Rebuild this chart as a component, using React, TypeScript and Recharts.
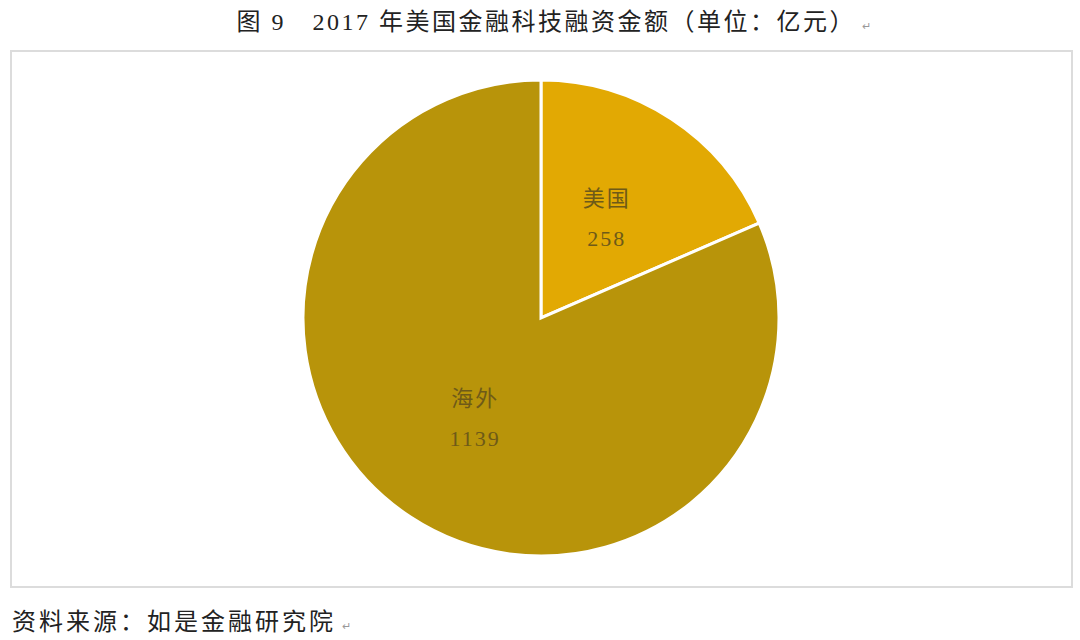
import React from 'react';
import { PieChart, Pie, Cell } from 'recharts';

// 2017 funding by region (亿元)
const regions = ['美国', '海外'];
const amounts = [258, 1139];
const sliceColors = ['#E2A903', '#B8940A'];

const title = '图 9　2017 年美国金融科技融资金额（单位：亿元）';
const source = '资料来源：如是金融研究院';

const data = regions.map((name, i) => ({ name, value: amounts[i] }));

const RADIAN = Math.PI / 180;
const FONT = '"Liberation Serif", "Noto Sans CJK SC", serif';

const renderLabel = (props: any) => {
  const { cx, cy, midAngle, name, value } = props;
  const r = 120;
  const x = cx + r * Math.cos(-midAngle * RADIAN);
  const y = cy + r * Math.sin(-midAngle * RADIAN);
  return (
    <text x={x} y={y} textAnchor="middle" fill="#6E5A18" fontSize={22} fontFamily={FONT} letterSpacing={2}>
      <tspan x={x} dy={-12}>{name}</tspan>
      <tspan x={x} dy={40}>{value}</tspan>
    </text>
  );
};

const Mark = () => <span style={{ fontSize: 11, color: '#999', marginLeft: 6 }}>↵</span>;

const App: React.FC = () => {
  return (
    <div style={{ position: 'absolute', left: 0, top: 0, width: 1080, height: 640, background: '#fff', fontFamily: FONT }}>
      <div
        style={{
          position: 'absolute',
          top: 2,
          left: 0,
          width: 1110,
          textAlign: 'center',
          fontSize: 24,
          letterSpacing: 2.5,
          color: '#222',
          whiteSpace: 'nowrap',
        }}
      >
        {title}
        <Mark />
      </div>
      <div
        style={{
          position: 'absolute',
          left: 10,
          top: 50,
          width: 1059,
          height: 534,
          border: '2px solid #dcdcdc',
        }}
      />
      <div style={{ position: 'absolute', left: 0, top: 0 }}>
        <PieChart width={1080} height={640} margin={{ top: 0, right: 0, bottom: 0, left: 0 }}>
          <Pie
            data={data}
            dataKey="value"
            nameKey="name"
            cx={541}
            cy={318}
            outerRadius={238}
            startAngle={90}
            endAngle={-270}
            stroke="#ffffff"
            strokeWidth={3}
            label={renderLabel}
            labelLine={false}
            isAnimationActive={false}
          >
            {data.map((entry, index) => (
              <Cell key={`cell-${index}`} fill={sliceColors[index]} />
            ))}
          </Pie>
        </PieChart>
      </div>
      <div
        style={{
          position: 'absolute',
          left: 12,
          top: 602,
          fontSize: 24,
          letterSpacing: 3,
          color: '#222',
          whiteSpace: 'nowrap',
        }}
      >
        {source}
        <Mark />
      </div>
    </div>
  );
};

export default App;
